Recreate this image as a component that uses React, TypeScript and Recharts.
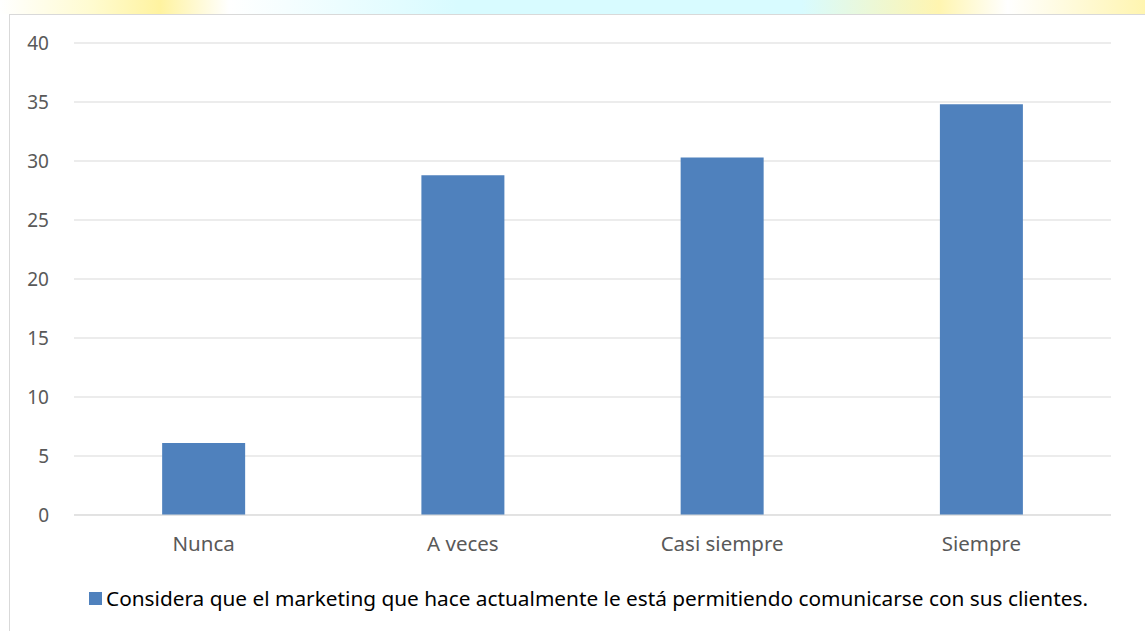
import { BarChart, Bar, XAxis, YAxis, CartesianGrid, Legend } from 'recharts'

const categories = ['Nunca', 'A veces', 'Casi siempre', 'Siempre']
const values = [6.1, 28.8, 30.3, 34.8]
const yTicks = [0, 5, 10, 15, 20, 25, 30, 35, 40]
const seriesName = 'Considera que el marketing que hace actualmente le está permitiendo comunicarse con sus clientes.'

const data = categories.map((c, i) => ({ name: c, value: values[i] }))

const font = "'Noto Sans', 'Open Sans', sans-serif"

function LegendBox() {
  return (
    <div style={{ display: 'flex', alignItems: 'center', justifyContent: 'center', height: 46, paddingLeft: 56, boxSizing: 'border-box', fontFamily: font, fontSize: 20.8, color: '#000' }}>
      <span style={{ display: 'inline-block', width: 13, height: 13, background: '#4f81bd', marginRight: 4 }} />
      <span>{seriesName}</span>
    </div>
  )
}

export default function App() {
  return (
    <div style={{ position: 'absolute', left: 0, top: 0, width: 1145, height: 631, background: '#fff', overflow: 'hidden' }}>
      <div style={{ position: 'absolute', left: 0, top: 0, width: 1145, height: 14,
        background: 'linear-gradient(90deg, #fff 0%, #fffbd0 8%, #fff3a0 14%, #fff 20%, #d8fbff 40%, #d8fbff 70%, #fff5b0 82%, #fff 88%, #fff5b0 100%)' }} />
      <div style={{ position: 'absolute', left: 9, top: 14, width: 1145, height: 630, border: '1px solid #d9d9d9', boxSizing: 'border-box', background: '#fff' }}>
        <BarChart width={1136} height={616} data={data} margin={{ top: 28, right: 35, left: 0, bottom: 10 }} barCategoryGap="34%">
          <CartesianGrid vertical={false} stroke="#d9d9d9" />
          <XAxis dataKey="name" axisLine={{ stroke: '#d9d9d9' }} tickLine={false} height={60} tickMargin={15}
            tick={{ fontSize: 20.5, fill: '#595959', fontFamily: font }} />
          <YAxis domain={[0, 40]} ticks={yTicks} width={64} axisLine={false} tickLine={false} tickMargin={19}
            tick={{ fontSize: 19, fill: '#595959', fontFamily: font }} />
          <Legend verticalAlign="bottom" height={46} content={() => <LegendBox />} />
          <Bar dataKey="value" name={seriesName} fill="#4f81bd" isAnimationActive={false} />
        </BarChart>
      </div>
    </div>
  )
}
